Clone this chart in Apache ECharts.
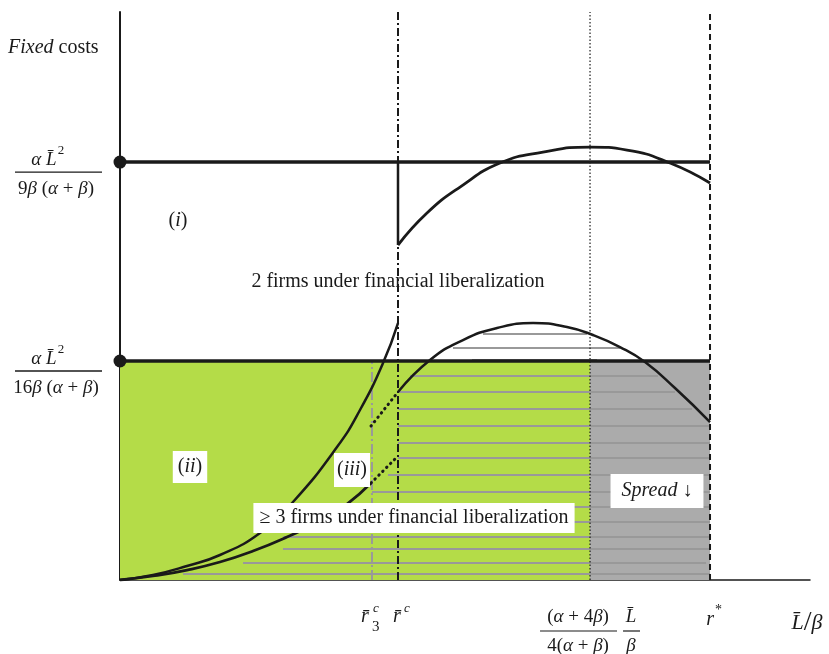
<!DOCTYPE html>
<html><head><meta charset="utf-8">
<script src="https://cdn.jsdelivr.net/npm/echarts@6/dist/echarts.min.js"></script>
<style>html,body{margin:0;padding:0;background:#fff}#c{width:829px;height:654px}</style>
</head><body><div id="c"></div>
<script>
// ---------- data (arbitrary units) ----------
const xTickNames  = ['r3c', 'rc', 'humpPeak', 'rStar', 'axisEnd'];
const xTickValues = [36.52, 40.29, 68.12, 85.51, 100];
const yTickNames  = ['twoFirmCost', 'threeFirmCost'];
const yTickValues = [100, 52.4];
const yAxisMax = 135.9;

// steep curve from origin to rc
const steepX = [0, 4.78, 9.71, 14.49, 20.29, 25.07, 31.45, 34.78, 38.12, 40.29];
const steepY = [0, 1.2, 3.35, 5.98, 11.24, 18.66, 31.82, 40.67, 51.91, 61.48];
// flatter curve from origin to r3c
const flatX = [0, 4.78, 9.71, 14.49, 19.28, 24.2, 28.99, 32.9, 36.38];
const flatY = [0, 0.96, 2.39, 4.31, 6.94, 10.29, 14.11, 18.18, 23.21];
// dotted connectors between r3c and rc
const dotLowX = [36.38, 40.29];
const dotLowY = [23.21, 29.67];
const dotHighX = [36.38, 40.29];
const dotHighY = [36.84, 44.98];
// 3-firm hump
const humpX = [40.29, 44.93, 49.71, 54.64, 59.86, 64.78, 68.55, 72.46, 76.09, 80.43, 85.51];
const humpY = [44.98, 52.63, 57.42, 60.29, 61.48, 60.53, 58.61, 55.74, 52.15, 45.93, 37.8];
// 2-firm hump
const twoFirmX = [40.29, 44.49, 49.28, 55.07, 61.3, 68.12, 73.48, 79.71, 85.51];
const twoFirmY = [80.14, 87.8, 94.02, 99.76, 102.39, 103.59, 102.87, 99.76, 94.98];
// hatch lines
const hatchY  = [58.85, 55.5, 52.63, 48.8, 44.98, 40.91, 36.84, 32.78, 29.19, 25.12, 21.05, 17.46, 13.88, 10.29, 7.42, 4.07, 1.44];
const hatchX0 = [52.61, 48.26, 51.01, 42.03, 40.29, 40.29, 40.29, 40.29, 40.29, 38.84, 36.52, 30.43, 26.09, 23.62, 23.62, 17.83, 9.13];
const hatchX1 = [67.68, 72.46, 69.13, 77.97, 80.43, 82.9, 85.51, 85.51, 85.51, 85.51, 85.51, 85.51, 85.51, 85.51, 85.51, 84.93, 85.51];

// ---------- styles ----------
const INK = '#1a1a1a';
const GREEN = '#b4dc48';
const GRAY = '#ababab';
const HATCH = '#999999';
const SERIF = '"Liberation Serif","DejaVu Serif",serif';
const F = (size, italic) => (italic ? 'italic ' : '') + size + 'px ' + SERIF;

const pts = (xs, ys) => xs.map((x, i) => [x, ys[i]]);
const [xR3, xRc, xPeak, xStar, xEnd] = xTickValues;
const [yTwo, yThree] = yTickValues;

function seg(data, style, z) {
  return { type: 'line', data, symbol: 'none', silent: true, animation: false,
           lineStyle: Object.assign({ color: INK, width: 2 }, style), z: z || 5 };
}
function curve(data, width) {
  return Object.assign(seg(data, { width, join: 'round' }, 7), { smooth: 0.5 });
}

const chart = echarts.init(document.getElementById('c'), null, { renderer: 'canvas' });
const option = {
  animation: false,
  grid: { left: 120, right: 19, top: 12, bottom: 74, containLabel: false },
  xAxis: { type: 'value', min: 0, max: xEnd, axisLine: { show: true, onZero: false, lineStyle: { color: INK, width: 1.5 } },
           axisTick: { show: false }, axisLabel: { show: false }, splitLine: { show: false } },
  yAxis: { type: 'value', min: 0, max: yAxisMax, axisLine: { show: true, onZero: false, lineStyle: { color: INK, width: 2 } },
           axisTick: { show: false }, axisLabel: { show: false }, splitLine: { show: false } },
  series: [
    { type: 'line', data: [], z: 1, silent: true,
      markArea: { silent: true, data: [
        [{ xAxis: 0, yAxis: 0, itemStyle: { color: GREEN } }, { xAxis: xPeak, yAxis: yThree }],
        [{ xAxis: xPeak, yAxis: 0, itemStyle: { color: GRAY } }, { xAxis: xStar, yAxis: yThree }]
      ] } },
    { type: 'lines', coordinateSystem: 'cartesian2d', z: 2, silent: true, animation: false,
      lineStyle: { color: HATCH, width: 2, opacity: 1 },
      data: hatchY.map((y, i) => ({ coords: [[hatchX0[i], y], [hatchX1[i], y]] })) },
    // vertical guides
    seg([[xR3, 0], [xR3, yThree]], { color: HATCH, width: 2, type: [10, 3, 2, 3] }, 3),
    seg([[xRc, 0], [xRc, yAxisMax]], { width: 2, type: [8, 3, 2, 3] }, 4),
    seg([[xRc, twoFirmY[0]], [xRc, yTwo]], { width: 2.5 }, 4),
    seg([[xPeak, 0], [xPeak, yAxisMax]], { width: 1.2, type: [1.5, 2] }, 4),
    seg([[xStar, 0], [xStar, yAxisMax]], { width: 2, type: [6, 4] }, 4),
    // horizontal cost levels
    seg([[0, yTwo], [xStar, yTwo]], { width: 3.5 }, 6),
    seg([[0, yThree], [xStar, yThree]], { width: 3.5 }, 6),
    // curves
    curve(pts(steepX, steepY), 2.5),
    curve(pts(flatX, flatY), 2.8),
    seg(pts(dotLowX, dotLowY), { width: 3, type: [0.5, 5], cap: 'round' }, 7),
    seg(pts(dotHighX, dotHighY), { width: 3, type: [0.5, 5], cap: 'round' }, 7),
    curve(pts(humpX, humpY), 2.5),
    curve(pts(twoFirmX, twoFirmY), 2.8),
    { type: 'scatter', data: [[0, yTwo], [0, yThree]], symbolSize: 13, clip: false, silent: true, z: 8,
      itemStyle: { color: INK, opacity: 1 } }
  ]
};
chart.setOption(option);

// ---------- text ----------
const rich = {
  n: { font: F(20), fill: INK },
  i: { font: F(20, true), fill: INK },
  fn: { font: F(19), fill: INK },
  fi: { font: F(19, true), fill: INK },
  big: { font: F(28), fill: INK },
  bi: { font: F(22, true), fill: INK }
};
function txt(x, y, text, extra) {
  return { type: 'text', x, y, silent: true, z: 100,
           style: Object.assign({ text, font: F(20), fill: INK, align: 'center', verticalAlign: 'middle', rich }, extra || {}) };
}
function hline(x1, x2, y, w) {
  return { type: 'line', silent: true, z: 100, shape: { x1, y1: y, x2, y2: y }, style: { stroke: INK, lineWidth: w || 1.2 } };
}
const P = (x, y) => chart.convertToPixel({ gridIndex: 0 }, [x, y]);
const g = [];
g.push(txt(8, 48, '{i|Fixed}{n| costs}', { align: 'left' }));

// y fractions
const dens = ['{fn|9}{fi|β}{fn| (}{fi|α}{fn| + }{fi|β}{fn|)}', '{fn|16}{fi|β}{fn| (}{fi|α}{fn| + }{fi|β}{fn|)}'];
yTickValues.forEach((v, k) => {
  const py = P(0, v)[1];
  const ly = py + 10;
  g.push(hline(15, 102, ly, 1.3));
  g.push(txt(44, ly - 12, '{fi|α L\u0304}', {}));
  g.push(txt(61, ly - 21, '2', { font: F(13) }));
  g.push(txt(56, ly + 17, dens[k]));
});

// x labels
const bx = P(0, 0)[1];
const xr3 = P(xR3, 0)[0], xrc = P(xRc, 0)[0], xpk = P(xPeak, 0)[0], xst = P(xStar, 0)[0], xen = P(xEnd, 0)[0];
g.push(txt(xr3 - 7, bx + 37, '{i|r\u0304}'));
g.push(txt(xr3 + 1, bx + 29, 'c', { font: F(13, true), align: 'left' }));
g.push(txt(xr3 + 0, bx + 47, '3', { font: F(15), align: 'left' }));
g.push(txt(xrc - 1, bx + 37, '{i|r\u0304}'));
g.push(txt(xrc + 6, bx + 29, 'c', { font: F(13, true), align: 'left' }));
// fraction (α+4β)/4(α+β) · L̄/β
g.push(hline(xpk - 50, xpk + 27, bx + 51, 1.2));
g.push(txt(xpk - 12, bx + 37, '{fn|(}{fi|α}{fn| + 4}{fi|β}{fn|)}'));
g.push(txt(xpk - 12, bx + 66, '{fn|4(}{fi|α}{fn| + }{fi|β}{fn|)}'));
g.push(hline(xpk + 33, xpk + 50, bx + 51, 1.2));
g.push(txt(xpk + 41, bx + 37, '{fi|L\u0304}'));
g.push(txt(xpk + 41, bx + 66, '{fi|β}'));
// r*
g.push(txt(xst, bx + 40, '{i|r}'));
g.push(txt(xst + 5, bx + 30, '*', { font: F(14), align: 'left' }));
// L̄/β at axis end
g.push(txt(xen - 3, bx + 43, '{bi|L\u0304}{big|/}{bi|β}'));

// annotations
g.push(txt(178, 221, '{n|(}{i|i}{n|)}'));
g.push(txt(398, 282, '2 firms under financial liberalization'));
const box = { backgroundColor: '#ffffff' };
g.push(txt(190, 467, '{n|(}{i|ii}{n|)}', Object.assign({ padding: [6, 5] }, box)));
g.push(txt(352, 470, '{n|(}{i|iii}{n|)}', Object.assign({ padding: [7, 3] }, box)));
g.push(txt(414, 518, '{n|≥ 3 firms under financial liberalization}', Object.assign({ padding: [5, 6] }, box)));
g.push(txt(657, 491, '{i|Spread}{n| ↓}', Object.assign({ padding: [7, 11] }, box)));

chart.setOption({ graphic: g });
</script></body></html>
